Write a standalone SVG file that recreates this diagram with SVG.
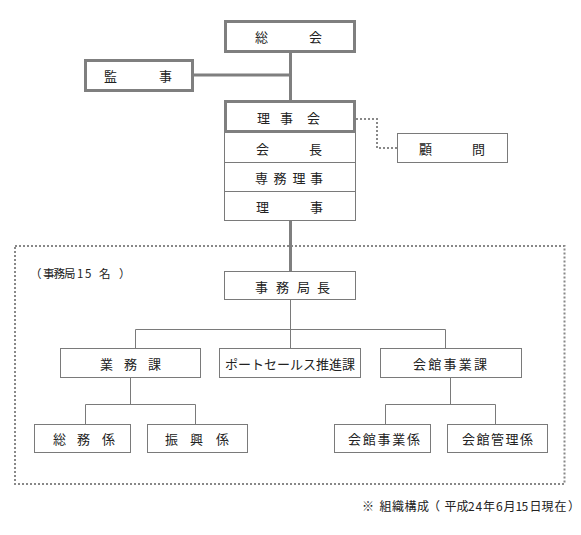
<svg xmlns="http://www.w3.org/2000/svg" width="581" height="535" viewBox="0 0 581 535">
<style>
text{font-family:"Noto Sans CJK JP","Noto Sans",sans-serif;font-size:13px;fill:#222;dominant-baseline:central}
.thick{fill:#fff;stroke:#7f7f7f;stroke-width:3}
.box{fill:#fff;stroke:#7a7a7a;stroke-width:1}
.tl{fill:none;stroke:#7f7f7f;stroke-width:3}
.ln{fill:none;stroke:#7a7a7a;stroke-width:1}
.dot{fill:none;stroke:#888;stroke-width:2;stroke-dasharray:2 2}
.sm{font-size:11.5px}
.ft{font-size:12px}
</style>
<rect class="dot" x="15" y="246" width="549.5" height="238"/>
<g id="connectors">
<line class="tl" x1="290.5" y1="52" x2="290.5" y2="101"/>
<line class="tl" x1="193" y1="75" x2="290.5" y2="75"/>
<line class="tl" x1="290.5" y1="220" x2="290.5" y2="272"/>
<path class="dot" d="M356 119H377V148H397"/>
<path class="ln" d="M290.5 300V348M135.5 348V329.5H445.5V348"/>
<path class="ln" d="M130.5 378V404.5M85.5 424V404.5H195.5V424"/>
<path class="ln" d="M450.5 378V404.5M385.5 424V404.5H495.5V424"/>
</g>
<g id="soukai"><rect class="thick" x="225.5" y="21.5" width="129" height="30"/><text x="255 309" y="36">総会</text></g>
<g id="kanji"><rect class="thick" x="85.5" y="60.5" width="107" height="30"/><text x="104 159" y="75">監事</text></g>
<g id="rijikai-stack">
<rect class="box" x="224.5" y="132" width="131" height="88.5"/>
<line class="ln" x1="224.5" y1="162.5" x2="355.5" y2="162.5"/>
<line class="ln" x1="224.5" y1="191.5" x2="355.5" y2="191.5"/>
</g>
<g id="rijikai"><rect class="thick" x="225.5" y="101.5" width="129" height="30"/><text x="257 280 307" y="117">理事会</text></g>
<g id="kaicho"><text x="256 309" y="148">会長</text></g>
<g id="senmu"><text x="255 273.5 292.5 310" y="177">専務理事</text></g>
<g id="riji"><text x="256 310" y="206">理事</text></g>
<g id="komon"><rect class="box" x="397.5" y="133.5" width="110" height="29"/><text x="419 472" y="148">顧問</text></g>
<text class="sm" x="30 43 53.5 64 77 85 99 119" y="273">（事務局15名）</text>
<g id="jimukyokucho"><rect class="box" x="224.5" y="271.5" width="131" height="28"/><text x="255 276 297 317" y="286">事務局長</text></g>
<g id="gyomuka"><rect class="box" x="60.5" y="348.5" width="140" height="29"/><text x="100 124 148" y="363">業務課</text></g>
<g id="portsales"><rect class="box" x="219.5" y="348.5" width="141" height="29"/><text x="225" y="363">ポートセールス推進課</text></g>
<g id="kaikanjigyoka"><rect class="box" x="380.5" y="348.5" width="141" height="29"/><text x="413 428.25 443.5 458.75 474" y="363">会館事業課</text></g>
<g id="somukakari"><rect class="box" x="34.5" y="424.5" width="96" height="28"/><text x="53 77 102" y="438">総務係</text></g>
<g id="shinkokakari"><rect class="box" x="147.5" y="424.5" width="100" height="28"/><text x="165 190 216" y="438">振興係</text></g>
<g id="kaikanjigyokakari"><rect class="box" x="334.5" y="424.5" width="96" height="28"/><text x="348 362.75 377.5 392.25 407" y="438">会館事業係</text></g>
<g id="kaikankanrikakari"><rect class="box" x="447.5" y="424.5" width="100" height="28"/><text x="462 476.5 491 505.5 520" y="438">会館管理係</text></g>
<text class="ft" x="362 374 379.5 392 404.5 417 428 444.5 456.5 468 475.5 483 496 503.5 515.5 521.5 529.5 541.5 554.5 568" y="505">※ 組織構成（平成24年6月15日現在）</text>
</svg>
